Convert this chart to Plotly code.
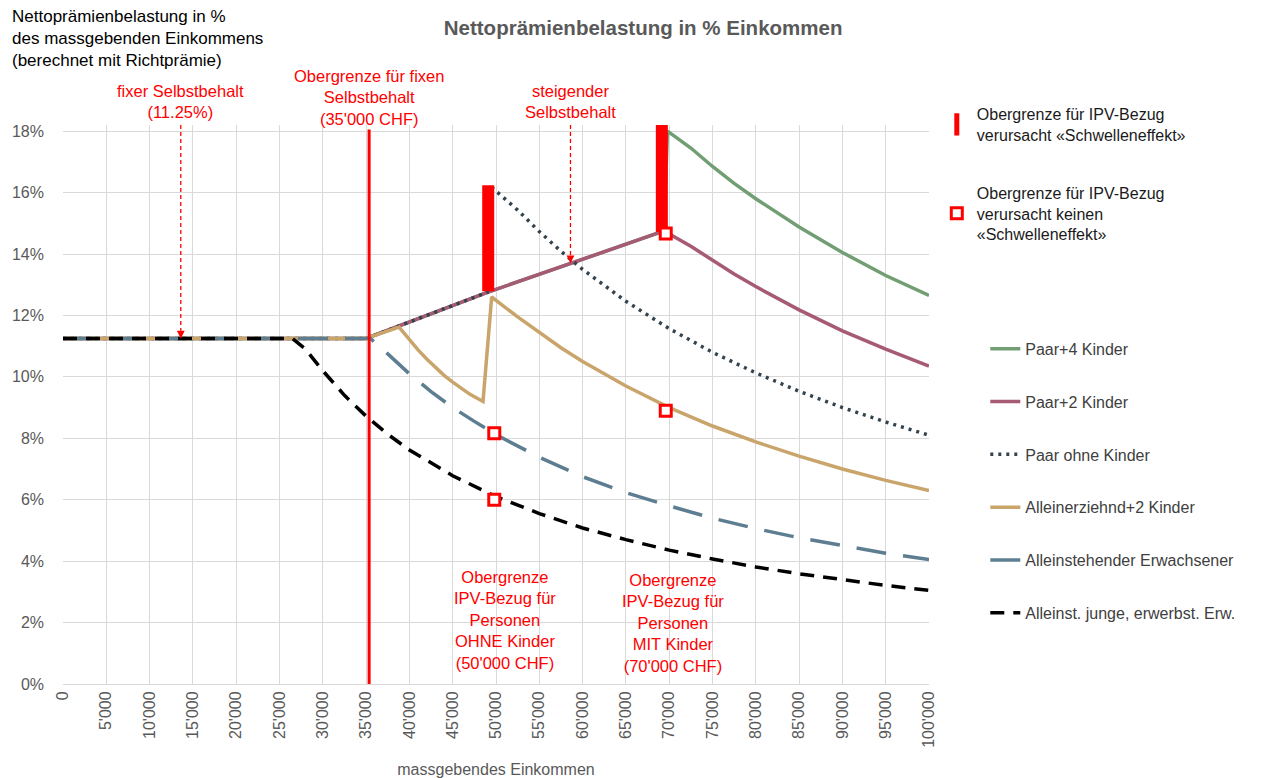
import plotly.graph_objects as go

FONT = "Arial, 'Liberation Sans', sans-serif"

# ---------------- data ----------------
x_tick_vals = [0, 5000, 10000, 15000, 20000, 25000, 30000, 35000, 40000, 45000, 50000,
               55000, 60000, 65000, 70000, 75000, 80000, 85000, 90000, 95000, 100000]
x_tick_text = ["0", "5'000", "10'000", "15'000", "20'000", "25'000", "30'000", "35'000",
               "40'000", "45'000", "50'000", "55'000", "60'000", "65'000", "70'000",
               "75'000", "80'000", "85'000", "90'000", "95'000", "100'000"]
y_tick_vals = [0, 2, 4, 6, 8, 10, 12, 14, 16, 18]
y_tick_text = ["0%", "2%", "4%", "6%", "8%", "10%", "12%", "14%", "16%", "18%"]

paar4_x = [0, 35000, 49000, 69400, 69800, 72500, 75000, 77500, 80000, 85000, 90000, 95000, 100000]
paar4_y = [11.25, 11.25, 12.75, 14.75, 18.0, 17.45, 16.85, 16.3, 15.8, 14.88, 14.05, 13.3, 12.65]

paar2_x = [0, 35000, 49000, 69400, 72500, 75000, 77500, 80000, 85000, 90000, 95000, 100000]
paar2_y = [11.25, 11.25, 12.75, 14.75, 14.25, 13.8, 13.35, 12.94, 12.18, 11.5, 10.9, 10.35]

paar0_x = [0, 35000, 49000, 49600, 52500, 55000, 57500, 60000, 65000, 70000, 75000, 80000,
           85000, 90000, 95000, 100000]
paar0_y = [11.25, 11.25, 12.75, 16.15, 15.43, 14.73, 14.09, 13.5, 12.46, 11.57, 10.8, 10.13,
           9.53, 9.0, 8.53, 8.1]

allein2_x = [0, 35000, 38800, 40000, 41000, 42000, 43000, 44000, 45000, 46000, 47000, 48500,
             49500, 52500, 55000, 57500, 60000, 65000, 70000, 75000, 80000, 85000, 90000,
             95000, 100000]
allein2_y = [11.25, 11.25, 11.62, 11.2, 10.88, 10.58, 10.3, 10.05, 9.83, 9.62, 9.43, 9.2,
             12.6, 11.95, 11.45, 10.95, 10.5, 9.7, 9.0, 8.4, 7.88, 7.42, 7.0, 6.63, 6.3]

allein_x = [0, 35500, 37500, 40000, 42500, 45000, 47500, 50000, 55000, 60000, 65000, 70000,
            75000, 80000, 85000, 90000, 95000, 100000]
allein_y = [11.25, 11.25, 10.75, 10.1, 9.52, 9.0, 8.55, 8.12, 7.38, 6.75, 6.23, 5.8,
            5.4, 5.06, 4.76, 4.5, 4.26, 4.05]

jung_x = [0, 26500, 28000, 30000, 32500, 35000, 37500, 40000, 45000, 50000, 55000, 60000,
          65000, 70000, 75000, 80000, 85000, 90000, 95000, 100000]
jung_y = [11.25, 11.25, 10.9, 10.2, 9.4, 8.72, 8.13, 7.62, 6.78, 6.1, 5.55, 5.08,
          4.7, 4.36, 4.07, 3.81, 3.59, 3.39, 3.21, 3.05]

# threshold bars ("Schwelleneffekt")
thr_x = [49100, 69150]
thr_low = [12.79, 14.72]
thr_high = [16.24, 18.2]

# no threshold effect markers
nothr_x = [49800, 49800, 69600, 69600]
nothr_y = [8.16, 6.0, 14.67, 8.9]

fixed_limit_x = 35350
arrow_fixed_x, arrow_fixed_y = 13600, 11.25
arrow_rise_x, arrow_rise_y = 58600, 13.7

Y_MAX = 18.2

# ---------------- figure ----------------
fig = go.Figure()

series = [
    ("Paar+4 Kinder", paar4_x, paar4_y, "#719E72", "solid", 3.5),
    ("Paar+2 Kinder", paar2_x, paar2_y, "#A65A74", "solid", 3.5),
    ("Paar ohne Kinder", paar0_x, paar0_y, "#33434E", "3px,5px", 3.5),
    ("Alleinerziehnd+2 Kinder", allein2_x, allein2_y, "#C9A56C", "solid", 3.5),
    ("Alleinstehender Erwachsener", allein_x, allein_y, "#5D7E91", "30px,17px", 3.5),
    ("Alleinst. junge, erwerbst. Erw.", jung_x, jung_y, "#000000", "14px,9px", 3.5),
]
for i, (name, xs, ys, col, dash, w) in enumerate(series):
    fig.add_trace(go.Scatter(
        x=xs, y=ys, mode="lines", name=name,
        line=dict(color=col, width=w, dash=dash),
        legend="legend2", legendgroup=f"g{i}",
    ))

# red threshold bars drawn as thick vertical lines
bx, by = [], []
for xv, lo, hi in zip(thr_x, thr_low, thr_high):
    bx += [xv, xv, None]
    by += [lo, hi, None]
fig.add_trace(go.Scatter(
    x=bx, y=by, mode="lines", line=dict(color="#FF0000", width=12),
    showlegend=False, hoverinfo="skip", legendgroup="thr",
))
# legend entry for the bars
fig.add_trace(go.Scatter(
    x=[None], y=[None], mode="markers",
    marker=dict(symbol="line-ns", size=16, color="#FF0000",
                line=dict(color="#FF0000", width=5)),
    name="Obergrenze für IPV-Bezug<br>verursacht «Schwelleneffekt»",
    legend="legend", legendgroup="thr",
))
fig.add_trace(go.Scatter(
    x=nothr_x, y=nothr_y, mode="markers",
    marker=dict(symbol="square", size=11, color="#FFFFFF",
                line=dict(color="#FF0000", width=3)),
    name="Obergrenze für IPV-Bezug<br>verursacht keinen<br>«Schwelleneffekt»",
    legend="legend", legendgroup="nothr",
))

# red vertical line at fixed limit
fig.add_shape(type="line", xref="x", yref="y", x0=fixed_limit_x, x1=fixed_limit_x,
              y0=0, y1=18.05, line=dict(color="#FF0000", width=3))
# dashed arrows
for ax_x, ax_y in [(arrow_fixed_x, arrow_fixed_y), (arrow_rise_x, arrow_rise_y)]:
    fig.add_shape(type="line", xref="x", yref="y", x0=ax_x, x1=ax_x,
                  y0=Y_MAX, y1=ax_y + 0.25,
                  line=dict(color="#FF0000", width=1.3, dash="4px,3px"))
    fig.add_annotation(x=ax_x, y=ax_y, xref="x", yref="y", text="", showarrow=True,
                       ax=0, ay=-9, arrowhead=2, arrowsize=1.2, arrowwidth=1.3,
                       arrowcolor="#FF0000")

red_font = dict(family=FONT, size=16.5, color="#FF0000")
# notes above the plot area (paper y) and inside (data y)
top_notes = [
    (arrow_fixed_x, 18.98, "fixer Selbstbehalt<br>(11.25%)"),
    (fixed_limit_x, 19.08, "Obergrenze für fixen<br>Selbstbehalt<br>(35'000 CHF)"),
    (arrow_rise_x, 18.98, "steigender<br>Selbstbehalt"),
]
for xv, yv, txt in top_notes:
    fig.add_annotation(x=xv, y=yv / Y_MAX, xref="x", yref="paper", text=txt,
                       showarrow=False, font=red_font, align="center",
                       xanchor="center", yanchor="middle")
inner_notes = [
    (51000, 2.07, "Obergrenze<br>IPV-Bezug für<br>Personen<br>OHNE Kinder<br>(50'000 CHF)"),
    (70400, 1.97, "Obergrenze<br>IPV-Bezug für<br>Personen<br>MIT Kinder<br>(70'000 CHF)"),
]
for xv, yv, txt in inner_notes:
    fig.add_annotation(x=xv, y=yv, xref="x", yref="y", text=txt, showarrow=False,
                       font=red_font, align="center", xanchor="center", yanchor="middle")

# y-axis description (top left)
fig.add_annotation(
    xref="paper", yref="paper", x=-0.061, y=1.154, xanchor="left", yanchor="middle",
    align="left", showarrow=False,
    text="Nettoprämienbelastung in %<br>des massgebenden Einkommens<br>(berechnet mit Richtprämie)",
    font=dict(family=FONT, size=17, color="#000000"),
)

fig.update_layout(
    width=1261, height=778,
    margin=dict(l=63, r=332, t=125, b=94, autoexpand=False),
    paper_bgcolor="#FFFFFF", plot_bgcolor="#FFFFFF",
    font=dict(family=FONT, size=16, color="#595959"),
    title=dict(text="<b>Nettoprämienbelastung in % Einkommen</b>",
               x=0.51, xanchor="center", y=0.964, yanchor="middle",
               font=dict(family=FONT, size=20.5, color="#595959")),
    xaxis=dict(range=[0, 100000], tickmode="array", tickvals=x_tick_vals,
               ticktext=x_tick_text, tickangle=-90, showgrid=True,
               gridcolor="#D9D9D9", gridwidth=1, zeroline=False,
               showline=True, linecolor="#D9D9D9", linewidth=1, automargin=False,
               ticks="", tickfont=dict(family=FONT, size=16, color="#595959"),
               title=dict(text="massgebendes Einkommen", standoff=16,
                          font=dict(family=FONT, size=16, color="#595959"))),
    yaxis=dict(range=[0, Y_MAX], tickmode="array", tickvals=y_tick_vals,
               ticktext=y_tick_text, showgrid=True, gridcolor="#D9D9D9",
               gridwidth=1, zeroline=False, showline=False, ticks="",
               ticklabelstandoff=18, automargin=False,
               tickfont=dict(family=FONT, size=16, color="#595959")),
    legend=dict(x=1.009, y=1.05, xanchor="left", yanchor="top",
                traceorder="grouped", tracegroupgap=34, bgcolor="rgba(0,0,0,0)",
                font=dict(family=FONT, size=16, color="#1A1A1A")),
    legend2=dict(x=1.065, y=0.63, xanchor="left", yanchor="top",
                 traceorder="grouped", tracegroupgap=29, bgcolor="rgba(0,0,0,0)",
                 font=dict(family=FONT, size=16, color="#404040")),
    showlegend=True,
)

fig.write_html("out.html", config={"displayModeBar": False},
               post_script="document.body.style.margin='0';")
